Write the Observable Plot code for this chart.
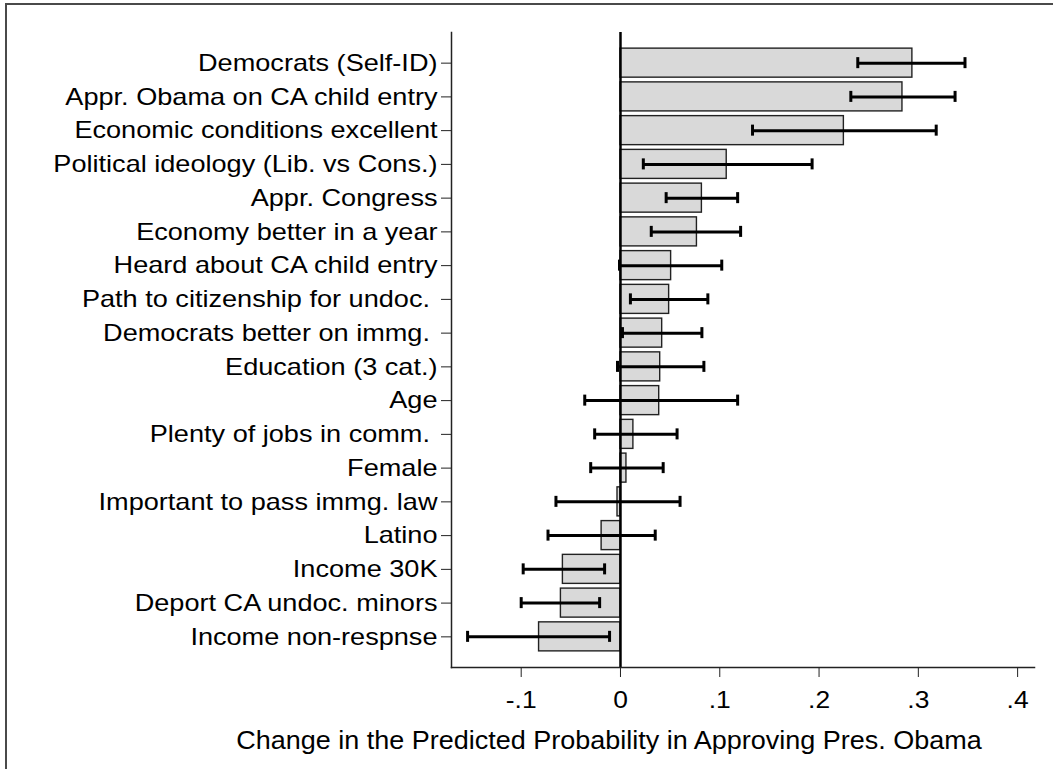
<!DOCTYPE html>
<html>
<head>
<meta charset="utf-8">
<script src="https://cdn.jsdelivr.net/npm/d3@7"></script>
<script src="https://cdn.jsdelivr.net/npm/@observablehq/plot@0.6"></script>
<style>
  body { margin: 0; background: #fff; }
  #wrap { position: relative; width: 1053px; height: 769px; overflow: hidden; }
  #border { position: absolute; left: 5px; top: 3px; right: -10px; bottom: -10px;
            border-left: 2px solid #4a4a4a; border-top: 2px solid #4a4a4a; }
  #chart { position: absolute; left: 0; top: 0; }
</style>
</head>
<body>
<div id="wrap"><div id="border"></div><div id="chart"></div></div>
<script>
// Predictors, in plotted order (top to bottom)
const labels = [
  "Democrats (Self-ID)",
  "Appr. Obama on CA child entry",
  "Economic conditions excellent",
  "Political ideology (Lib. vs Cons.)",
  "Appr. Congress",
  "Economy better in a year",
  "Heard about CA child entry",
  "Path to citizenship for undoc. ",
  "Democrats better on immg. ",
  "Education (3 cat.)",
  "Age",
  "Plenty of jobs in comm. ",
  "Female",
  "Important to pass immg. law",
  "Latino",
  "Income 30K",
  "Deport CA undoc. minors",
  "Income non-respnse"
];

// Change in predicted probability (point estimate)
const estimates = [0.294, 0.284, 0.225, 0.107, 0.082, 0.077, 0.051, 0.049, 0.042,
                   0.040, 0.039, 0.013, 0.006, -0.003, -0.019, -0.058, -0.060, -0.082];
// Confidence interval bounds
const lower = [0.239, 0.232, 0.133, 0.023, 0.046, 0.031, -0.001, 0.010, 0.002,
               -0.003, -0.036, -0.026, -0.030, -0.065, -0.073, -0.098, -0.100, -0.154];
const upper = [0.347, 0.337, 0.318, 0.193, 0.118, 0.121, 0.102, 0.088, 0.082,
               0.084, 0.118, 0.057, 0.043, 0.060, 0.035, -0.016, -0.021, -0.011];

// Axis ticks and their printed labels
const tickValues = [-0.1, 0, 0.1, 0.2, 0.3, 0.4];
const tickLabels = ["-.1", "0", ".1", ".2", ".3", ".4"];
const xTitle = "Change in the Predicted Probability in Approving Pres. Obama";

const rows = labels.map((label, i) => ({label, est: estimates[i], lo: lower[i], hi: upper[i]}));

const font = "'Liberation Sans', Arial, Helvetica, sans-serif";

const chart = Plot.plot({
  width: 1053,
  height: 769,
  marginLeft: 451,
  marginRight: 19,
  marginTop: 32,
  marginBottom: 102,
  style: {fontFamily: font, fontSize: "24px", color: "#000", background: "transparent"},
  x: {domain: [-0.1702, 0.417]},
  y: {domain: labels, paddingInner: 0.14, paddingOuter: 0.478, round: false},
  marks: [
    Plot.barX(rows, {y: "label", x1: 0, x2: "est", fill: "#d9d9d9", stroke: "#222", strokeWidth: 1.4}),
    Plot.ruleY(rows, {y: "label", x1: "lo", x2: "hi", stroke: "#000", strokeWidth: 3}),
    Plot.tickX(rows, {y: "label", x: "lo", stroke: "#000", strokeWidth: 3, insetTop: 9, insetBottom: 9}),
    Plot.tickX(rows, {y: "label", x: "hi", stroke: "#000", strokeWidth: 3, insetTop: 9, insetBottom: 9}),
    Plot.ruleX([0], {stroke: "#000", strokeWidth: 2.5}),
    Plot.frame({anchor: "left", stroke: "#222", strokeWidth: 1.5}),
    Plot.frame({anchor: "bottom", stroke: "#222", strokeWidth: 1.5}),
    Plot.axisY({tickSize: 10, tickPadding: 4, fontSize: 24, label: null, stroke: "#222"}),
    Plot.axisX({ticks: tickValues, tickFormat: d => tickLabels[tickValues.indexOf(d)],
                tickSize: 10, tickPadding: 13, fontSize: 24, label: null, stroke: "#222"}),
    Plot.text([xTitle], {frameAnchor: "bottom", lineAnchor: "bottom", dx: -134, dy: 81,
                         fontSize: 25, fill: "#000", className: "xtitle"})
  ]
});

// The typeface is set slightly wide: stretch each label horizontally about its anchor.
chart.querySelectorAll("text").forEach(t => {
  const tr = t.getAttribute("transform") || "";
  let sx = 1.1;
  if (t.closest(".xtitle")) sx = 1.08;
  else if (t.closest('[aria-label="y-axis tick label"]')) sx = 1.13;
  t.setAttribute("transform", tr + ` scale(${sx},1)`);
});

document.getElementById("chart").appendChild(chart);
</script>
</body>
</html>
